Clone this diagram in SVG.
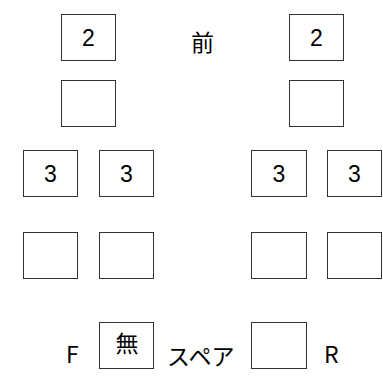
<svg xmlns="http://www.w3.org/2000/svg" width="383" height="390" viewBox="0 0 383 390">
<style>
.b{fill:#fff;stroke:#333;stroke-width:1}
.n{font-family:"Liberation Sans",Arial,sans-serif;font-size:23px;fill:#000;text-anchor:middle}
.j{font-family:"Noto Sans CJK JP","Noto Sans",sans-serif;font-size:23px;fill:#000}
</style>
<rect width="383" height="390" fill="#fff"/>
<g id="fl2"><rect class="b" x="61.5" y="14.5" width="54" height="46"/><text class="n" x="88.5" y="45.5">2</text></g>
<g id="fr2"><rect class="b" x="289.5" y="14.5" width="54" height="46"/><text class="n" x="316.5" y="45.5">2</text></g>
<g id="fl1"><rect class="b" x="61.5" y="80.5" width="54" height="46"/></g>
<g id="fr1"><rect class="b" x="289.5" y="80.5" width="54" height="46"/></g>
<g id="rl3a"><rect class="b" x="23.5" y="150.5" width="54" height="46"/><text class="n" x="50.5" y="181.5">3</text></g>
<g id="rl3b"><rect class="b" x="99.5" y="150.5" width="54" height="46"/><text class="n" x="126.5" y="181.5">3</text></g>
<g id="rr3a"><rect class="b" x="251.5" y="150.5" width="55" height="46"/><text class="n" x="279" y="181.5">3</text></g>
<g id="rr3b"><rect class="b" x="327.5" y="150.5" width="54" height="46"/><text class="n" x="354.5" y="181.5">3</text></g>
<g id="rl4a"><rect class="b" x="23.5" y="232.5" width="54" height="46"/></g>
<g id="rl4b"><rect class="b" x="99.5" y="232.5" width="54" height="46"/></g>
<g id="rr4a"><rect class="b" x="251.5" y="232.5" width="55" height="46"/></g>
<g id="rr4b"><rect class="b" x="327.5" y="232.5" width="54" height="46"/></g>
<g id="spF"><rect class="b" x="99.5" y="322.5" width="54" height="46"/><text class="j" x="127" y="352" text-anchor="middle" font-size="21">無</text></g>
<g id="spR"><rect class="b" x="251.5" y="322.5" width="55" height="46"/></g>
<g id="labels">
<text class="j" x="202.5" y="51" text-anchor="middle" font-size="25">前</text>
<text class="j" x="66" y="363">F</text>
<text class="j" x="167" y="364.5" font-size="24">スペア</text>
<text class="j" x="324" y="363">R</text>
</g>
<g id="connectors"/>
</svg>
